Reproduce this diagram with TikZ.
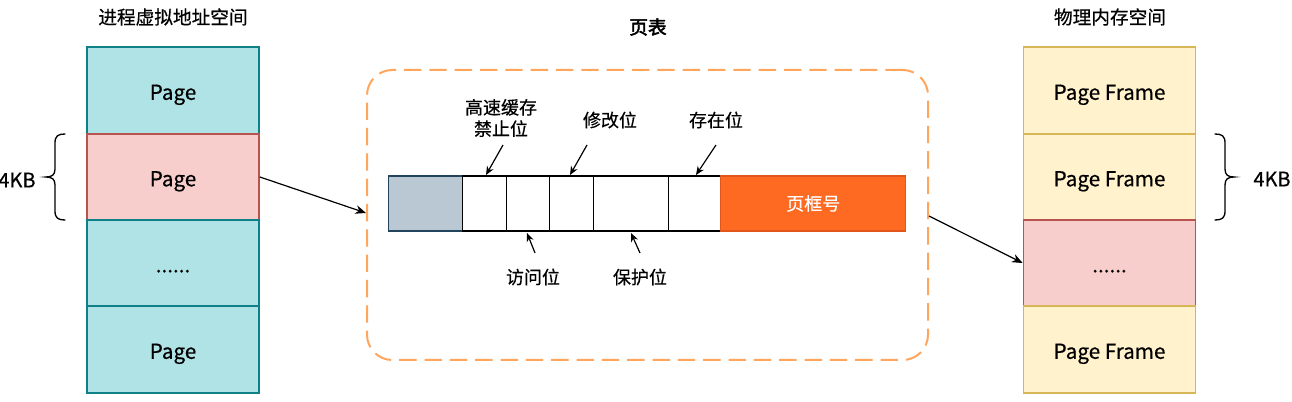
\documentclass[tikz,border=0pt]{standalone}
\usepackage{fontspec}
\newfontfamily\cjk[FakeBold=0.5]{Noto Sans CJK SC}
\newfontfamily\cjkbold[FakeBold=2.5]{Noto Sans CJK SC}
\usetikzlibrary{arrows.meta}
\definecolor{tealfill}{HTML}{B0E3E6}
\definecolor{tealline}{HTML}{0E8088}
\definecolor{pinkfill}{HTML}{F8CECC}
\definecolor{pinkline}{HTML}{B85450}
\definecolor{yelfill}{HTML}{FFF2CC}
\definecolor{yelline}{HTML}{D6B656}
\definecolor{grayfill}{HTML}{BAC8D3}
\definecolor{grayline}{HTML}{23445D}
\definecolor{orfill}{HTML}{FF6A22}
\definecolor{orline}{HTML}{E0561B}
\definecolor{dashor}{HTML}{FFA55C}
\tikzset{
  txt/.style={font=\cjk\fontsize{14}{16}\selectfont, inner sep=0pt},
  lbl/.style={font=\cjk\fontsize{13.5}{16}\selectfont, inner sep=0pt, align=center},
  cell/.style={draw, line width=1.1pt, minimum height=41.25pt, inner sep=0pt, anchor=west},
  vpage/.style={draw=tealline, fill=tealfill, line width=1.3pt, minimum width=129pt, minimum height=64.75pt, inner sep=0pt, text height=14pt, text depth=0pt, font=\cjk\fontsize{15.5}{18}\selectfont},
  vsel/.style={vpage, draw=pinkline, fill=pinkfill},
  ppage/.style={vpage, draw=yelline, fill=yelfill},
  psel/.style={vpage, draw=pinkline, fill=pinkfill},
  conn/.style={line width=0.9pt, -{Stealth[length=8pt,width=6.5pt]}},
  small/.style={line width=0.9pt, -{Stealth[length=6.5pt,width=5.5pt]}},
  brace/.style={line width=1pt, line cap=round}
}
\begin{document}
\begin{tikzpicture}[x=0.75pt,y=-0.75pt]
\useasboundingbox (0,0) rectangle (1292,402);
% titles
\node[txt] (t1) at (173,17) {进程虚拟地址空间};
\node[txt] (t2) at (1110,17) {物理内存空间};
\node[txt, font=\cjkbold\fontsize{14}{16}\selectfont] (t3) at (648,27) {页表};
% virtual pages
\node[vpage] (v1) at (173,90.5) {Page};
\node[vsel]  (v2) at (173,177) {Page};
\node[vpage] (v3) at (173,263) {......};
\node[vpage] (v4) at (173,349.5) {Page};
% physical frames
\node[ppage] (p1) at (1109.5,90.5) {Page Frame};
\node[ppage] (p2) at (1109.5,177) {Page Frame};
\node[psel]  (p3) at (1109.5,263) {......};
\node[ppage] (p4) at (1109.5,349.5) {Page Frame};
% dashed page table box
\node[draw=dashor, line width=1.5pt, dash pattern=on 13pt off 6pt, rounded corners=19pt, minimum width=420.75pt, minimum height=217.5pt, inner sep=0pt] (pt) at (647.5,215) {};
% bar cells
\node[cell, draw=grayline, fill=grayfill, minimum width=55.5pt] (c0) at (388,203.5) {};
\node[cell, draw=black, fill=white, minimum width=33pt] (c1) at (462,203.5) {};
\node[cell, draw=black, fill=white, minimum width=32.25pt] (c2) at (506,203.5) {};
\node[cell, draw=black, fill=white, minimum width=33pt] (c3) at (549,203.5) {};
\node[cell, draw=black, fill=white, minimum width=56.25pt] (c4) at (593,203.5) {};
\node[cell, draw=black, fill=white, minimum width=39pt] (c5) at (668,203.5) {};
\node[cell, draw=orline, fill=orfill, minimum width=138.75pt, text=white, font=\cjk\fontsize{13.5}{16}\selectfont] (c6) at (720,203.5) {页框号};
% labels
\node[lbl] (l1) at (501,118) {高速缓存\\禁止位};
\node[lbl] (l2) at (610,120) {修改位};
\node[lbl] (l3) at (716,120) {存在位};
\node[lbl] (l4) at (533,277) {访问位};
\node[lbl] (l5) at (640,277) {保护位};
\coordinate (a1s) at (503,145); \coordinate (a1e) at (486,175);
\coordinate (a2s) at (587,145); \coordinate (a2e) at (570,175);
\coordinate (a3s) at (716,145); \coordinate (a3e) at (696,175);
\coordinate (a4s) at (535,253); \coordinate (a4e) at (527,233);
\coordinate (a5s) at (640,253); \coordinate (a5e) at (631,233);
\draw[small] (a1s) -- (a1e);
\draw[small] (a2s) -- (a2e);
\draw[small] (a3s) -- (a3e);
\draw[small] (a4s) -- (a4e);
\draw[small] (a5s) -- (a5e);
% main connectors
\coordinate (m1e) at (366,213);
\coordinate (m2s) at (929,216);
\draw[conn] (v2.east) -- (m1e);
\draw[conn] (m2s) -- (p3.west);
% braces
\draw[brace] (65,134) .. controls (58,134) and (55,136) .. (55,143) -- (55,169) .. controls (55,175) and (52,177) .. (46,177) .. controls (52,177) and (55,179) .. (55,185) -- (55,211) .. controls (55,218) and (58,220) .. (65,220);
\draw[brace] (1215,134) .. controls (1222,134) and (1225,136) .. (1225,143) -- (1225,169) .. controls (1225,175) and (1228,177) .. (1234,177) .. controls (1228,177) and (1225,179) .. (1225,185) -- (1225,211) .. controls (1225,218) and (1222,220) .. (1215,220);
\node[txt, font=\cjk\fontsize{15}{16}\selectfont] (k1) at (17,180) {4KB};
\node[txt, font=\cjk\fontsize{15}{16}\selectfont] (k2) at (1272,179) {4KB};
\end{tikzpicture}
\end{document}
